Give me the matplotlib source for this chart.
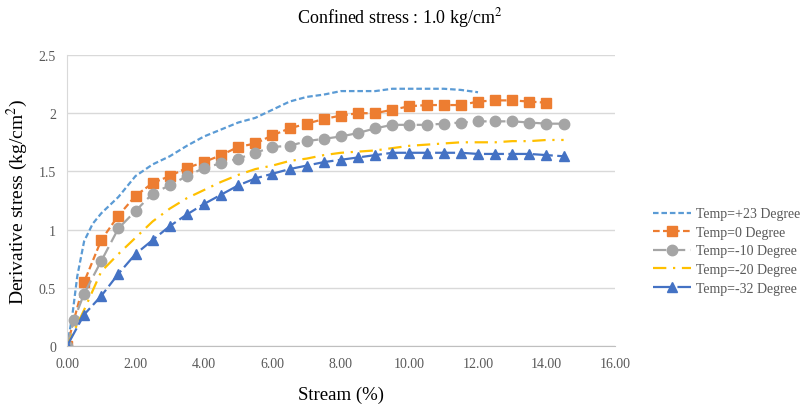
import matplotlib
matplotlib.use("Agg")
import matplotlib.pyplot as plt
import numpy as np

plt.rcParams['font.family'] = ['Liberation Serif', 'DejaVu Serif']
plt.rcParams['mathtext.fontset'] = 'stix'

# ---- data ----
x_p23 = [0, 0.15, 0.3, 0.5, 0.75, 1.0, 1.5, 2.0, 2.5, 3.0, 3.5, 4.0, 4.5, 5.0, 5.5, 6.0,
         6.5, 7.0, 7.5, 8.0, 8.5, 9.0, 9.5, 10.0, 10.5, 11.0, 11.5, 12.0]
y_p23 = [0, 0.25, 0.60, 0.90, 1.05, 1.14, 1.28, 1.46, 1.56, 1.63, 1.72, 1.80, 1.86, 1.92, 1.96, 2.03,
         2.10, 2.14, 2.16, 2.19, 2.19, 2.19, 2.21, 2.21, 2.21, 2.21, 2.20, 2.18]

x_0 = [0, 0.5, 1.0, 1.5, 2.0, 2.5, 3.0, 3.5, 4.0, 4.5, 5.0, 5.5, 6.0, 6.5, 7.0, 7.5, 8.0,
       8.5, 9.0, 9.5, 10.0, 10.5, 11.0, 11.5, 12.0, 12.5, 13.0, 13.5, 14.0]
y_0 = [0, 0.55, 0.91, 1.12, 1.29, 1.40, 1.46, 1.53, 1.58, 1.64, 1.71, 1.74, 1.81, 1.87, 1.91, 1.95, 1.98,
       2.00, 2.00, 2.03, 2.06, 2.07, 2.07, 2.07, 2.10, 2.11, 2.11, 2.10, 2.09]

x_m10 = [0, 0.2, 0.5, 1.0, 1.5, 2.0, 2.5, 3.0, 3.5, 4.0, 4.5, 5.0, 5.5, 6.0, 6.5, 7.0, 7.5, 8.0,
         8.5, 9.0, 9.5, 10.0, 10.5, 11.0, 11.5, 12.0, 12.5, 13.0, 13.5, 14.0, 14.5]
y_m10 = [0, 0.22, 0.45, 0.73, 1.01, 1.16, 1.31, 1.38, 1.46, 1.53, 1.57, 1.61, 1.66, 1.71, 1.72, 1.76, 1.78, 1.80,
         1.83, 1.87, 1.90, 1.90, 1.90, 1.91, 1.92, 1.93, 1.93, 1.93, 1.92, 1.91, 1.91]

x_m20 = [0, 0.5, 1.0, 1.5, 2.0, 2.5, 3.0, 3.5, 4.0, 4.5, 5.0, 5.5, 6.0, 6.5, 7.0, 7.5, 8.0,
         8.5, 9.0, 9.5, 10.0, 10.5, 11.0, 11.5, 12.0, 12.5, 13.0, 13.5, 14.0, 14.5]
y_m20 = [0, 0.31, 0.64, 0.79, 0.93, 1.07, 1.18, 1.27, 1.34, 1.41, 1.47, 1.52, 1.55, 1.59, 1.61, 1.64, 1.66,
         1.67, 1.68, 1.70, 1.72, 1.73, 1.74, 1.75, 1.75, 1.75, 1.76, 1.76, 1.77, 1.77]

x_m32 = [0, 0.5, 1.0, 1.5, 2.0, 2.5, 3.0, 3.5, 4.0, 4.5, 5.0, 5.5, 6.0, 6.5, 7.0, 7.5, 8.0,
         8.5, 9.0, 9.5, 10.0, 10.5, 11.0, 11.5, 12.0, 12.5, 13.0, 13.5, 14.0, 14.5]
y_m32 = [0, 0.27, 0.43, 0.62, 0.79, 0.91, 1.03, 1.13, 1.22, 1.30, 1.38, 1.44, 1.48, 1.52, 1.55, 1.58, 1.60,
         1.62, 1.64, 1.66, 1.66, 1.66, 1.66, 1.66, 1.65, 1.65, 1.65, 1.65, 1.64, 1.63]

labels = ['Temp=+23 Degree', 'Temp=0 Degree', 'Temp=-10 Degree', 'Temp=-20 Degree', 'Temp=-32 Degree']
x_ticks = [0, 2, 4, 6, 8, 10, 12, 14, 16]
y_ticks = [0, 0.5, 1, 1.5, 2, 2.5]
y_tick_labels = ['0', '0.5', '1', '1.5', '2', '2.5']

# ---- figure ----
fig = plt.figure(figsize=(8.06, 4.06), dpi=100)
ax = fig.add_axes([67/806, 1-347/406, (615-67)/806, (347-56)/406])

lw = 1.6
ax.plot(x_p23, y_p23, color='#5B9BD5', lw=lw, dashes=(2.5, 1.3), label=labels[0])
ax.plot(x_0, y_0, color='#ED7D31', lw=lw, dashes=(3, 1.5), marker='s', ms=7.5, label=labels[1])
ax.plot(x_m10, y_m10, color='#A5A5A5', lw=lw, dashes=(6, 2.5), marker='o', ms=7.5, label=labels[2])
ax.plot(x_m20, y_m20, color='#FFC000', lw=lw, dashes=(6, 3, 1, 3), label=labels[3])
ax.plot(x_m32, y_m32, color='#4472C4', lw=lw, dashes=(9, 2), marker='^', ms=7.5, label=labels[4])

ax.set_xlim(0, 16)
ax.set_ylim(0, 2.5)
ax.set_xticks(x_ticks)
ax.set_xticklabels([f'{v:.2f}' for v in x_ticks])
ax.set_yticks(y_ticks)
ax.set_yticklabels(y_tick_labels)
ax.tick_params(length=0, labelsize=10, labelcolor='#595959', pad=8)
ax.grid(axis='y', color='#D9D9D9', lw=1)
ax.set_axisbelow(True)
for s in ['top', 'right']:
    ax.spines[s].set_visible(False)
ax.spines['left'].set_color('#D9D9D9')
ax.spines['bottom'].set_color('#BFBFBF')

ax.set_xlabel('Stream (%)', fontsize=13.5, labelpad=11)
ax.set_ylabel('Derivative stress (kg/cm$^2$)', fontsize=14, labelpad=6)
fig.text(400/806, 1-18/406, 'Confined stress : 1.0 kg/cm$^2$', ha='center', va='center', fontsize=13)

leg = fig.legend(loc='center left', bbox_to_anchor=(640/806, 1-252/406), frameon=False,
                 fontsize=10, handlelength=2.8, handletextpad=0.3, labelspacing=0.4)
for t in leg.get_texts():
    t.set_color('#595959')

fig.savefig('out.png', dpi=100)
